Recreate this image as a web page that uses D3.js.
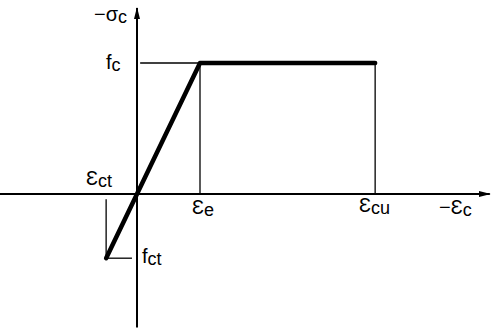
<!DOCTYPE html>
<html>
<head>
<meta charset="utf-8">
<script src="https://cdn.jsdelivr.net/npm/d3@7"></script>
<style>
  html, body { margin: 0; padding: 0; background: #fff; }
  svg { display: block; }
  text { font-family: "Liberation Sans", "DejaVu Sans", sans-serif; fill: #000; }
</style>
</head>
<body>
<svg id="chart" width="491" height="329"></svg>
<script>
// Idealised concrete stress-strain law (normalised units)
const epsCt = -0.49;   // tensile strain limit
const epsE = 1.0;      // end of elastic branch
const epsCu = 3.78;    // ultimate compressive strain
const fc = 1.0;        // compressive strength
const fct = epsCt * fc / epsE; // tensile strength on the elastic line

const curveStrain = [epsCt, 0, epsE, epsCu];
const curveStress = [fct, 0, fc, fc];

const W = 491, H = 329;
const svg = d3.select("#chart");

const x = d3.scaleLinear().domain([-137 / 63, 354 / 63]).range([0, W]);
const y = d3.scaleLinear().domain([-135 / 131, 194 / 131]).range([H, 0]);

// arrowhead marker
svg.append("defs").append("marker")
  .attr("id", "arrow")
  .attr("viewBox", "0 0 12 6")
  .attr("refX", 11).attr("refY", 3)
  .attr("markerWidth", 12).attr("markerHeight", 6)
  .attr("markerUnits", "userSpaceOnUse")
  .attr("orient", "auto")
  .append("path").attr("d", "M0,0 L12,3 L0,6 Z").attr("fill", "#000");

// axes
svg.append("line")
  .attr("x1", 0).attr("x2", x(5.6))
  .attr("y1", y(0)).attr("y2", y(0))
  .attr("stroke", "#000").attr("stroke-width", 2)
  .attr("marker-end", "url(#arrow)");
svg.append("line")
  .attr("x1", x(0)).attr("x2", x(0))
  .attr("y1", y(-1.02)).attr("y2", y(1.42))
  .attr("stroke", "#000").attr("stroke-width", 2)
  .attr("marker-end", "url(#arrow)");

// guide lines
const thin = svg.append("g").attr("stroke", "#000").attr("stroke-width", 1.3).attr("fill", "none");
thin.append("line") // fc level
  .attr("x1", x(0.05)).attr("x2", x(epsE)).attr("y1", y(fc)).attr("y2", y(fc));
thin.append("line") // eps_e drop
  .attr("x1", x(epsE)).attr("x2", x(epsE)).attr("y1", y(fc)).attr("y2", y(0));
thin.append("line") // eps_cu drop
  .attr("x1", x(epsCu)).attr("x2", x(epsCu)).attr("y1", y(fc)).attr("y2", y(0));
thin.append("line") // eps_ct drop
  .attr("x1", x(epsCt)).attr("x2", x(epsCt)).attr("y1", y(-0.04)).attr("y2", y(fct));
thin.append("line") // fct level
  .attr("x1", x(epsCt)).attr("x2", x(-0.08)).attr("y1", y(fct)).attr("y2", y(fct));

// stress-strain curve
const line = d3.line()
  .x((d, i) => x(curveStrain[i]))
  .y((d, i) => y(curveStress[i]));
svg.append("path")
  .datum(curveStrain)
  .attr("d", line)
  .attr("fill", "none")
  .attr("stroke", "#000")
  .attr("stroke-width", 4.5)
  .attr("stroke-linejoin", "round")
  .attr("stroke-linecap", "round");

// labels
function label(px, py, main, sub) {
  const t = svg.append("text")
    .attr("x", px).attr("y", py)
    .attr("font-size", 20);
  t.append("tspan").text(main);
  if (sub) t.append("tspan").attr("font-size", 18).attr("dy", 2).text(sub);
  return t;
}
label(94, 21, "−σ", "c");
label(106, 69, "f", "c");
label(86, 185, "Ɛ", "ct");
label(192, 214, "Ɛ", "e");
label(359, 212, "Ɛ", "cu");
label(439, 214, "−Ɛ", "c");
label(142, 263, "f", "ct");
</script>
</body>
</html>
